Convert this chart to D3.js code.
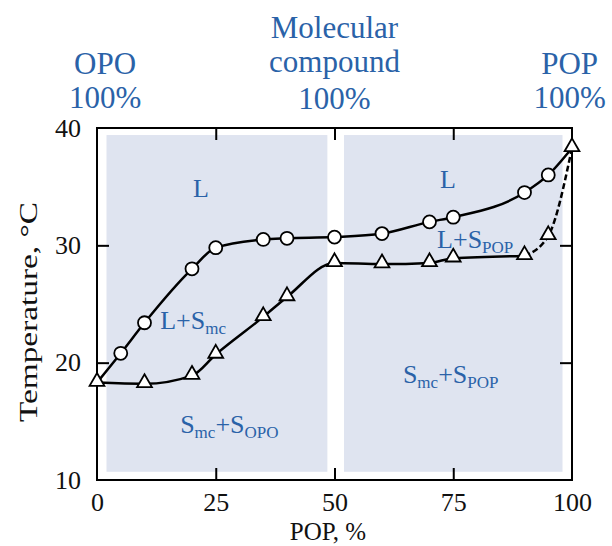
<!DOCTYPE html>
<html><head><meta charset="utf-8">
<script src="https://cdn.jsdelivr.net/npm/d3@7"></script>
<style>body{margin:0;background:#fff}svg{display:block}</style>
</head><body>
<svg id="chart" width="612" height="546"></svg>
<script>
// ---- data ----
const xTicks = [0, 25, 50, 75, 100];
const yTicks = [10, 20, 30, 40];
const pureX = [0, 100];               // OPO and POP melting points
const pureT = [18.3, 38.3];
const liquidusX = [5, 10, 20, 25, 35, 40, 50, 60, 70, 75, 90, 95];
const liquidusT = [20.8, 23.4, 28.0, 29.8, 30.5, 30.6, 30.7, 31.0, 32.0, 32.4, 34.5, 36.0];
const solidusX = [10, 20, 25, 35, 40, 50, 60, 70, 75, 90, 95];
const solidusT = [18.2, 18.9, 20.7, 23.9, 25.6, 28.5, 28.4, 28.5, 28.9, 29.1, 30.8];
const regionX = [[2, 48.5], [52, 98]];
const regionT = [10.7, 39.4];
const topLabels = [
  {x: 1.7, lines: ["OPO", "100%"]},
  {x: 50, lines: ["Molecular", "compound", "100%"]},
  {x: 99.5, lines: ["POP", "100%"]}
];
const phaseLabels = [
  {x: 20.2, t: 34.1, main: "L", sub: ""},
  {x: 72.2, t: 34.9, main: "L", sub: ""},
  {x: 71.6, t: 29.8, main: "L+S", sub: "POP"},
  {x: 13.3, t: 22.9, main: "L+S", sub: "mc"},
  {x: 17.5, t: 14.0, main: "S", sub: "mc", main2: "+S", sub2: "OPO"},
  {x: 64.4, t: 18.3, main: "S", sub: "mc", main2: "+S", sub2: "POP"}
];

// ---- chart ----
const svg = d3.select("#chart");
const blue = "#2a62a8";
const serif = "'Liberation Serif','Times New Roman',serif";
const x = d3.scaleLinear().domain([0, 100]).range([97, 572]);
const y = d3.scaleLinear().domain([10, 40]).range([480, 128]);

// shaded regions
svg.selectAll("rect.region").data(regionX).enter().append("rect")
  .attr("class", "region")
  .attr("x", d => x(d[0])).attr("width", d => x(d[1]) - x(d[0]))
  .attr("y", y(regionT[1])).attr("height", y(regionT[0]) - y(regionT[1]))
  .attr("fill", "#dfe4f0");

// axes
const gB = svg.append("g").attr("transform", `translate(0,${y(10)})`)
  .call(d3.axisBottom(x).tickValues(xTicks).tickSizeInner(-12).tickSizeOuter(0).tickPadding(12.5));
const gL = svg.append("g").attr("transform", `translate(${x(0)},0)`)
  .call(d3.axisLeft(y).tickValues(yTicks).tickSizeInner(-12).tickSizeOuter(0).tickPadding(16));
const gT = svg.append("g").attr("transform", `translate(0,${y(40)})`)
  .call(d3.axisTop(x).tickValues([25, 50, 75]).tickSizeInner(-12).tickSizeOuter(0).tickFormat(""));
const gR = svg.append("g").attr("transform", `translate(${x(100)},0)`)
  .call(d3.axisRight(y).tickValues([20, 30]).tickSizeInner(-12).tickSizeOuter(0).tickFormat(""));
[gB, gL, gT, gR].forEach(g => {
  g.select(".domain").remove();
  g.selectAll(".tick line").attr("stroke", "#000").attr("stroke-width", 2);
  g.selectAll("text").attr("font-family", serif).attr("font-size", 26).attr("fill", "#111");
});
gL.selectAll(".tick line").filter(d => d === 10 || d === 40).remove();
gB.selectAll(".tick line").filter(d => d === 0 || d === 100).remove();

// frame
svg.append("rect").attr("x", x(0)).attr("y", y(40))
  .attr("width", x(100) - x(0)).attr("height", y(10) - y(40))
  .attr("fill", "none").attr("stroke", "#000").attr("stroke-width", 2);

// lines
const liqPts = [[pureX[0], pureT[0]]].concat(liquidusX.map((v, i) => [v, liquidusT[i]]), [[pureX[1], pureT[1]]]);
const solPts = [[pureX[0], pureT[0]]].concat(solidusX.map((v, i) => [v, solidusT[i]]), [[pureX[1], pureT[1]]]);
const line = d3.line().x(d => x(d[0])).y(d => y(d[1])).curve(d3.curveMonotoneX);
svg.append("path").attr("d", line(liqPts)).attr("fill", "none")
  .attr("stroke", "#000").attr("stroke-width", 2.5);
const solMain = solPts.filter(d => d[0] <= 90);
const solEnd = solPts.filter(d => d[0] >= 90);
svg.append("path").attr("d", line(solMain)).attr("fill", "none")
  .attr("stroke", "#000").attr("stroke-width", 2.5);
svg.append("path").attr("d", line(solEnd)).attr("fill", "none")
  .attr("stroke", "#000").attr("stroke-width", 2.5).attr("stroke-dasharray", "6,3");

// markers
const tri = d3.symbol().type(d3.symbolTriangle).size(95);
svg.selectAll("path.tri").data(solPts).enter().append("path")
  .attr("class", "tri").attr("d", tri)
  .attr("transform", d => `translate(${x(d[0])},${y(d[1]) - 1})`)
  .attr("fill", "#fff").attr("stroke", "#000").attr("stroke-width", 1.8);
svg.selectAll("circle.liq").data(liquidusX).enter().append("circle")
  .attr("class", "liq").attr("cx", d => x(d)).attr("cy", (d, i) => y(liquidusT[i]))
  .attr("r", 6.5).attr("fill", "#fff").attr("stroke", "#000").attr("stroke-width", 1.8);

// phase labels
phaseLabels.forEach(p => {
  const t = svg.append("text").attr("x", x(p.x)).attr("y", y(p.t))
    .attr("font-family", serif).attr("font-size", 26).attr("fill", blue);
  t.append("tspan").text(p.main);
  if (p.sub) t.append("tspan").attr("font-size", 17).attr("dy", 5).text(p.sub);
  if (p.main2) {
    t.append("tspan").attr("dy", -5).text(p.main2);
    t.append("tspan").attr("font-size", 17).attr("dy", 5).text(p.sub2);
  }
});

// top labels
const baseY = [[74, 108], [38, 72, 109]];
topLabels.forEach((l, i) => {
  const ys = l.lines.length === 2 ? baseY[0] : baseY[1];
  l.lines.forEach((s, j) => {
    svg.append("text").attr("x", x(l.x)).attr("y", ys[j])
      .attr("text-anchor", "middle").attr("font-family", serif)
      .attr("font-size", 31).attr("fill", blue).text(s);
  });
});

// axis titles
svg.append("text").attr("x", 328).attr("y", 540).attr("text-anchor", "middle")
  .attr("font-family", serif).attr("font-size", 25).attr("fill", "#111").text("POP, %");
svg.append("text").attr("transform", "translate(37,312) rotate(-90)")
  .attr("text-anchor", "middle").attr("font-family", serif).attr("font-size", 25)
  .attr("textLength", 220).attr("lengthAdjust", "spacingAndGlyphs")
  .attr("fill", "#111").text("Temperature, °C");
</script>
</body></html>
